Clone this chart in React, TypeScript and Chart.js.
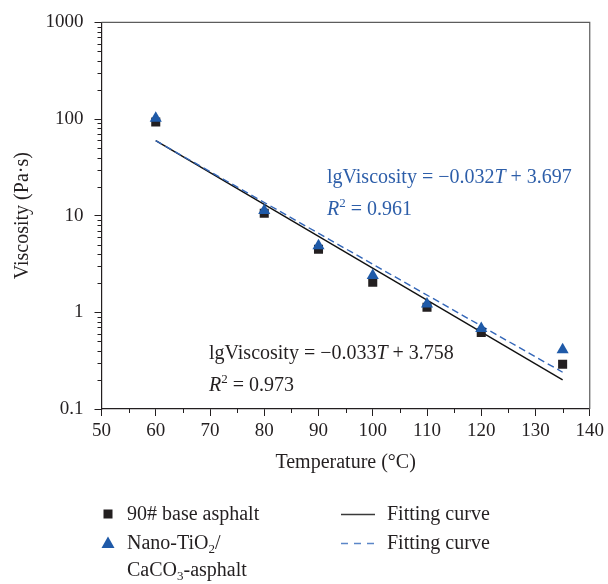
import React, { useEffect, useRef } from "react";
import { Chart, registerables } from "chart.js";

Chart.register(...registerables);

// ---- data ----
const temperatures = [60, 80, 90, 100, 110, 120, 135];
const baseViscosity = [93, 10.6, 4.5, 2.05, 1.13, 0.62, 0.29];
const nanoViscosity = [102, 11.3, 4.9, 2.4, 1.22, 0.68, 0.41];
const fitTemperatures = [60, 135];
const baseFitViscosity = [59.8, 0.2];
const nanoFitViscosity = [59.7, 0.24];
const xTickValues = [50, 60, 70, 80, 90, 100, 110, 120, 130, 140];
const xMinorTickValues = [55, 65, 75, 85, 95, 105, 115, 125, 135];
const yTickValues = [0.1, 1, 10, 100, 1000];
const yMinorMultipliers = [2, 3, 4, 5, 6, 7, 8, 9];

const baseLabel = "90# base asphalt";
const fitLabel = "Fitting curve";
const xTitle = "Temperature (°C)";
const yTitle = "Viscosity (Pa·s)";

const FONT = '"Liberation Serif", "DejaVu Serif", serif';
const BLACK = "#231f20";
const BLUE_MARK = "#1f5aa8";
const BLUE_TEXT = "#2d5ea9";
const BLUE_LINE = "#3366b8";

type Part = { t: string; italic?: boolean; sup?: boolean; sub?: boolean };

function drawRich(ctx: CanvasRenderingContext2D, x: number, y: number, parts: Part[], color: string, size: number) {
  ctx.fillStyle = color;
  ctx.textBaseline = "alphabetic";
  ctx.textAlign = "left";
  let cx = x;
  for (const p of parts) {
    const s = p.sup || p.sub ? size * 0.65 : size;
    ctx.font = `${p.italic ? "italic " : ""}${s}px ${FONT}`;
    const dy = p.sup ? -size * 0.38 : p.sub ? size * 0.22 : 0;
    ctx.fillText(p.t, cx, y + dy);
    cx += ctx.measureText(p.t).width;
  }
}

const overlayPlugin = {
  id: "overlay",
  afterDraw(chart: any) {
    const { ctx, chartArea: ca, scales } = chart;
    const xs = scales.x;
    const ys = scales.y;
    ctx.save();

    // top & right frame
    ctx.strokeStyle = "#5c5c5c";
    ctx.lineWidth = 1.2;
    ctx.beginPath();
    ctx.moveTo(ca.left, ca.top);
    ctx.lineTo(ca.right, ca.top);
    ctx.lineTo(ca.right, ca.bottom);
    ctx.stroke();

    // minor ticks
    ctx.strokeStyle = BLACK;
    ctx.lineWidth = 1;
    ctx.beginPath();
    for (const v of xMinorTickValues) {
      const px = Math.round(xs.getPixelForValue(v)) + 0.5;
      ctx.moveTo(px, ca.bottom);
      ctx.lineTo(px, ca.bottom + 4);
    }
    for (let k = 0; k < yTickValues.length - 1; k++) {
      for (const m of yMinorMultipliers) {
        const py = Math.round(ys.getPixelForValue(yTickValues[k] * m)) + 0.5;
        ctx.moveTo(ca.left - 4, py);
        ctx.lineTo(ca.left, py);
      }
    }
    ctx.stroke();

    // axis titles
    ctx.fillStyle = BLACK;
    ctx.font = `20px ${FONT}`;
    ctx.textAlign = "center";
    ctx.textBaseline = "middle";
    ctx.fillText(xTitle, (ca.left + ca.right) / 2, 463);
    ctx.save();
    ctx.translate(23, (ca.top + ca.bottom) / 2);
    ctx.rotate(-Math.PI / 2);
    ctx.fillText(yTitle, 0, 0);
    ctx.restore();

    // equations
    drawRich(ctx, 327, 183, [
      { t: "lgViscosity = −0.032" }, { t: "T", italic: true }, { t: " + 3.697" },
    ], BLUE_TEXT, 20);
    drawRich(ctx, 327, 215, [
      { t: "R", italic: true }, { t: "2", sup: true }, { t: " = 0.961" },
    ], BLUE_TEXT, 20);
    drawRich(ctx, 209, 359, [
      { t: "lgViscosity = −0.033" }, { t: "T", italic: true }, { t: " + 3.758" },
    ], BLACK, 20);
    drawRich(ctx, 209, 391, [
      { t: "R", italic: true }, { t: "2", sup: true }, { t: " = 0.973" },
    ], BLACK, 20);

    // legend
    ctx.fillStyle = BLACK;
    ctx.fillRect(108 - 4.5, 514 - 4.5, 9, 9);
    drawRich(ctx, 127, 520, [{ t: baseLabel }], BLACK, 20);

    ctx.fillStyle = BLUE_MARK;
    ctx.beginPath();
    ctx.moveTo(108, 536.5);
    ctx.lineTo(114.5, 548);
    ctx.lineTo(101.5, 548);
    ctx.closePath();
    ctx.fill();
    drawRich(ctx, 127, 549, [{ t: "Nano-TiO" }, { t: "2", sub: true }, { t: "/" }], BLACK, 20);
    drawRich(ctx, 127, 576, [{ t: "CaCO" }, { t: "3", sub: true }, { t: "-asphalt" }], BLACK, 20);

    ctx.lineWidth = 1.3;
    ctx.strokeStyle = "#3a3a3a";
    ctx.beginPath();
    ctx.moveTo(341, 514.5);
    ctx.lineTo(375, 514.5);
    ctx.stroke();
    ctx.strokeStyle = "#5b86c8";
    ctx.setLineDash([7, 6]);
    ctx.beginPath();
    ctx.moveTo(341, 543.5);
    ctx.lineTo(375, 543.5);
    ctx.stroke();
    ctx.setLineDash([]);
    drawRich(ctx, 387, 520, [{ t: fitLabel }], BLACK, 20);
    drawRich(ctx, 387, 549, [{ t: fitLabel }], BLACK, 20);

    ctx.restore();
  },
};

export default function App() {
  const ref = useRef<HTMLCanvasElement | null>(null);

  useEffect(() => {
    document.body.style.margin = "0";
    const canvas = ref.current;
    if (!canvas) return;
    const toPts = (xs: number[], ys: number[]) => xs.map((x, i) => ({ x, y: ys[i] }));

    const chart = new Chart(canvas, {
      type: "scatter",
      data: {
        datasets: [
          {
            label: "Nano-TiO2/CaCO3-asphalt",
            data: toPts(temperatures, nanoViscosity),
            pointStyle: "triangle",
            pointRadius: 7,
            pointHoverRadius: 7,
            pointBackgroundColor: BLUE_MARK,
            pointBorderColor: BLUE_MARK,
            pointBorderWidth: 0,
            showLine: false,
            order: 0,
          },
          {
            label: baseLabel,
            data: toPts(temperatures, baseViscosity),
            pointStyle: "rect",
            pointRadius: 6.4,
            pointHoverRadius: 6.4,
            pointBackgroundColor: BLACK,
            pointBorderColor: BLACK,
            pointBorderWidth: 0,
            showLine: false,
            order: 1,
          },
          {
            label: fitLabel + " (nano)",
            data: toPts(fitTemperatures, nanoFitViscosity),
            showLine: true,
            borderColor: BLUE_LINE,
            borderWidth: 1.4,
            borderDash: [7, 4],
            pointRadius: 0,
            order: 2,
          },
          {
            label: fitLabel + " (base)",
            data: toPts(fitTemperatures, baseFitViscosity),
            showLine: true,
            borderColor: "#111111",
            borderWidth: 1.4,
            pointRadius: 0,
            order: 3,
          },
        ],
      },
      options: {
        responsive: false,
        animation: false,
        devicePixelRatio: 1,
        layout: { padding: { top: 16, right: 17, left: 0, bottom: 0 } },
        plugins: {
          legend: { display: false },
          tooltip: { enabled: false },
          title: { display: false },
        },
        scales: {
          x: {
            type: "linear",
            min: 50,
            max: 140,
            afterBuildTicks: (scale: any) => {
              scale.ticks = xTickValues.map((v) => ({ value: v }));
            },
            afterFit: (scale: any) => {
              scale.height = 175;
            },
            ticks: {
              color: BLACK,
              font: { family: FONT, size: 19 },
              padding: 4,
              maxRotation: 0,
              autoSkip: false,
              callback: (v: any) => String(v),
            },
            grid: {
              drawOnChartArea: false,
              drawTicks: true,
              tickLength: 7,
              color: BLACK,
              lineWidth: 1,
            },
            border: { display: true, color: BLACK, width: 1.2 },
          },
          y: {
            type: "logarithmic",
            min: 0.1,
            max: 1000,
            afterBuildTicks: (scale: any) => {
              scale.ticks = yTickValues.map((v) => ({ value: v, major: true }));
            },
            afterFit: (scale: any) => {
              scale.width = 101.5;
            },
            ticks: {
              color: BLACK,
              font: { family: FONT, size: 19 },
              padding: 11,
              autoSkip: false,
              callback: (v: any) => String(v),
            },
            grid: {
              drawOnChartArea: false,
              drawTicks: true,
              tickLength: 7,
              color: BLACK,
              lineWidth: 1,
            },
            border: { display: true, color: BLACK, width: 1.2 },
          },
        },
      },
      plugins: [overlayPlugin],
    } as any);

    return () => chart.destroy();
  }, []);

  return (
    <div style={{ position: "absolute", left: 0, top: 0, width: 608, height: 584 }}>
      <canvas ref={ref} width={608} height={584} style={{ display: "block" }} />
    </div>
  );
}
